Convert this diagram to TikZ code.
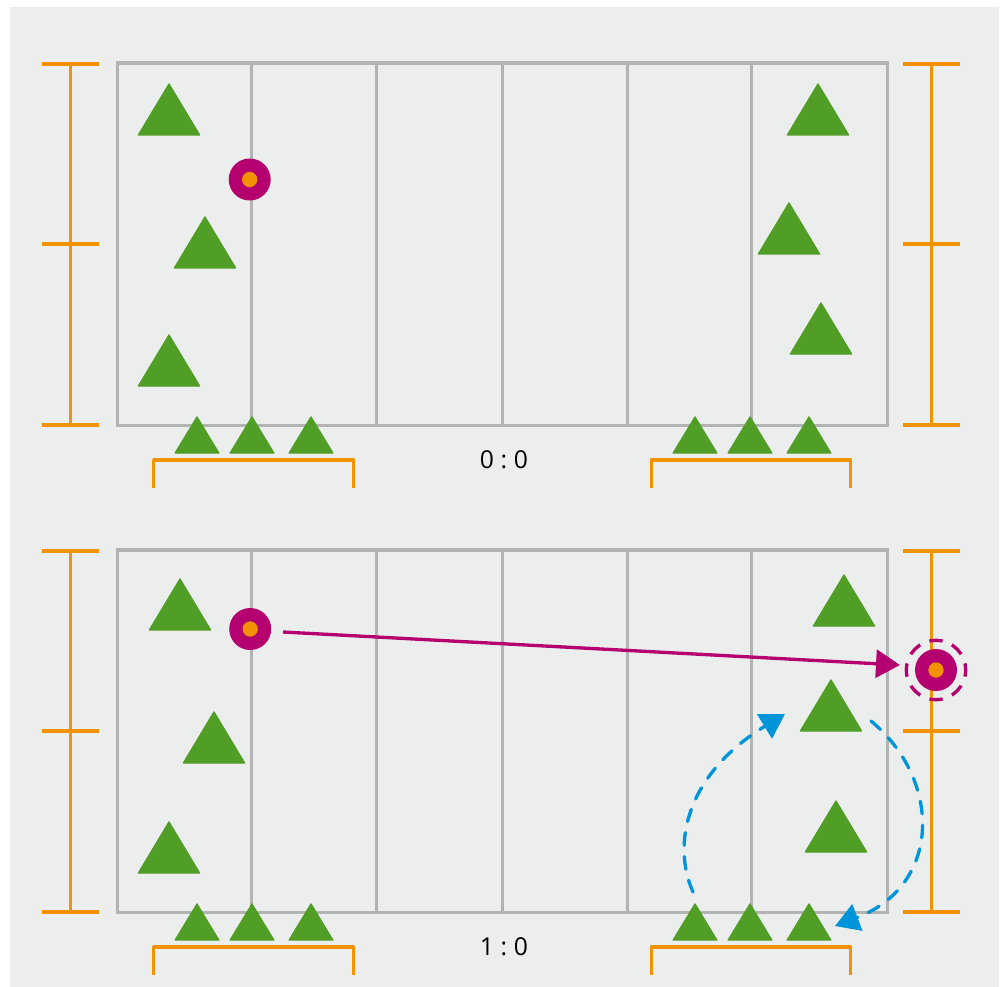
\documentclass[tikz,border=0pt]{standalone}
\usepackage{fontspec}
\setmainfont{Open Sans}
\usetikzlibrary{arrows.meta}
\definecolor{panelbg}{HTML}{ECEEED}
\definecolor{fieldgrey}{HTML}{B2B3B3}
\definecolor{markorange}{HTML}{F39200}
\definecolor{teamgreen}{HTML}{509E26}
\definecolor{ballmag}{HTML}{B5006F}
\definecolor{passblue}{HTML}{0095DA}
\tikzset{
  fieldline/.style={draw=fieldgrey,line width=2.6pt},
  gauge/.style={draw=markorange,line width=2.5pt},
  bigtri/.style={fill=teamgreen,draw=teamgreen,line width=1pt,line join=round},
  balldisc/.style={circle,fill=ballmag,minimum size=31.5pt,inner sep=0pt},
  ballcore/.style={circle,fill=markorange,minimum size=11.5pt,inner sep=0pt},
  shot/.style={draw=ballmag,line width=2.5pt,-{Triangle[length=18pt,width=21pt]}},
  pass/.style={draw=passblue,line width=2.5pt,line cap=round,dash pattern=on 9.5pt off 8.5pt,-{Triangle[length=18pt,width=21pt]}},
  score/.style={font=\fontsize{18.5}{22}\selectfont,text=black,inner sep=0pt}
}
\newcommand{\bigT}[2]{\path[bigtri] (#1,#2+1) -- ++(30.6,51) -- ++(-61.2,0) -- cycle;}
\newcommand{\smallT}[2]{\path[bigtri] (#1,#2+1) -- ++(21.8,36) -- ++(-43.6,0) -- cycle;}
\newcommand{\fieldpanel}[2]{% top of field, top of gauge
  \draw[fieldline] (117.3,#1) rectangle (887.5,#1+362.5);
  \foreach \xx in {251.7,376.7,502.7,627.7,751.7} \draw[fieldline] (\xx,#1) -- (\xx,#1+362.5);
  \foreach \gx in {70.4,931.4} {
    \draw[gauge] (\gx,#2) -- (\gx,#2+361);
    \foreach \gy in {0,180,361} \draw[gauge] (\gx-28.4,#2+\gy) -- (\gx+28.4,#2+\gy);
  }
  \foreach \bx in {153.6,651.2} \draw[gauge,line join=round] (\bx,#2+424) -- (\bx,#2+396) -- (\bx+199.6,#2+396) -- (\bx+199.6,#2+424);
}
\begin{document}
\begin{tikzpicture}[x=0.75pt,y=-0.75pt]
\useasboundingbox (0,0) rectangle (1002,987);
\fill[panelbg] (10,7) rectangle (999,987);
\fieldpanel{63}{64}
\fieldpanel{550}{551}
% upper players
\bigT{169}{83}\bigT{205}{216}\bigT{169}{334}\bigT{818}{83}\bigT{789}{202}\bigT{821}{302}
\smallT{197}{416}\smallT{252}{416}\smallT{311}{416}\smallT{695}{416}\smallT{750}{416}\smallT{809}{416}
\node[balldisc] (ballA) at (249.7,179.5) {};
\node[ballcore] (coreA) at (ballA) {};
\node[score] (scoreA) at (504,459.5) {0\hspace{5pt}:\hspace{5pt}0};
% lower players
\bigT{180}{578}\bigT{214}{711}\bigT{169}{821}\bigT{844}{574}\bigT{831}{679}\bigT{836}{800}
\smallT{197}{903}\smallT{252}{903}\smallT{311}{903}\smallT{695}{903}\smallT{750}{903}\smallT{809}{903}
\node[balldisc] (ballB) at (250.2,629) {};
\node[ballcore] (coreB) at (ballB) {};
\node[balldisc] (ballC) at (936,670) {};
\node[ballcore] (coreC) at (ballC) {};
\node[circle,draw=ballmag,line width=2.5pt,dash pattern=on 10pt off 7.47pt,dash phase=5pt,minimum size=44.5pt,inner sep=0pt] (ringC) at (ballC) {};
\node[score] (scoreB) at (504,946.5) {1\hspace{5pt}:\hspace{5pt}0};
\coordinate (shotS) at (283,632);
\coordinate (shotE) at (900,665);
\draw[shot] (shotS) -- (shotE);
\coordinate (passAS) at (693,892);
\coordinate (passAE) at (785,714);
\draw[pass] (passAS) .. controls (672,845) and (685,775) .. (passAE);
\coordinate (passBS) at (871,721);
\coordinate (passBE) at (835,926);
\draw[pass] (passBS) .. controls (942,780) and (942,885) .. (passBE);
\end{tikzpicture}
\end{document}
